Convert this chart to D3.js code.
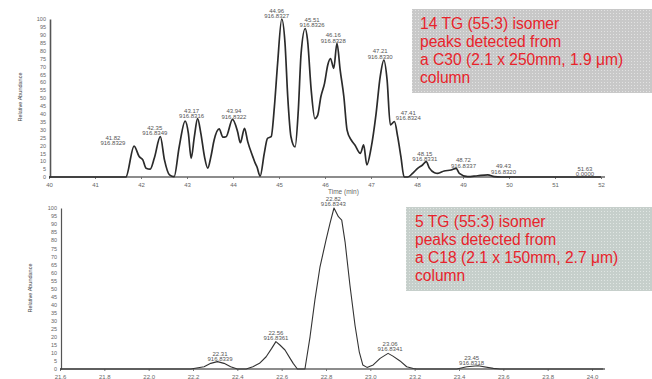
<!DOCTYPE html>
<html><head><meta charset="utf-8">
<script src="https://cdn.jsdelivr.net/npm/d3@7"></script>
<style>html,body{margin:0;padding:0;background:#fff;}svg{display:block;font-family:"Liberation Sans",Arial,sans-serif;}</style>
</head><body>
<svg id="c" width="652" height="379"></svg>
<script>
// ---------- DATA ----------
// Top chromatogram (C30), time in min, relative abundance %
const topTime = [40.00,41.67,41.85,41.96,42.04,42.11,42.20,42.29,42.42,42.51,42.62,42.72,42.83,42.96,43.03,43.09,43.16,43.23,43.30,43.38,43.45,43.52,43.59,43.70,43.78,43.85,43.99,44.10,44.16,44.25,44.32,44.43,44.48,44.52,44.59,44.68,44.75,44.83,44.90,44.97,45.06,45.13,45.19,45.26,45.35,45.42,45.48,45.57,45.62,45.70,45.78,45.84,45.91,45.99,46.06,46.12,46.19,46.26,46.33,46.41,46.48,46.57,46.65,46.77,46.84,46.91,47.00,47.11,47.20,47.28,47.35,47.42,47.51,47.58,47.65,47.72,47.80,47.91,48.02,48.12,48.20,48.27,48.38,48.45,48.59,48.74,48.85,48.92,49.10,49.32,49.54,49.68,49.83,52.00];
const topValue = [0,0,19.6,12.9,10.8,5.6,5.0,12.0,25.5,10.8,1.3,0.2,19.0,35.4,27.6,11.8,25.5,37.0,27.8,12.9,5.6,12.9,23.4,30.4,25.2,25.5,36.5,28.7,21.7,30.8,22.4,12.9,8.9,6.5,0.6,15.0,24.5,25.5,44.5,72.0,100,85.0,50.8,25.5,19.0,42.4,78.0,94.0,86.7,55.0,37.0,39.0,50.8,59.3,70.9,75.0,68.8,84.6,67.7,50.8,29.7,23.4,20.3,15.0,20.3,7.6,18.0,40.0,63.5,74.0,61.4,33.0,35.0,25.5,12.9,0,0,2.5,5.6,7.6,9.7,5.6,2.7,2.3,3.8,4.4,5.5,2.3,0.2,0.8,1.3,0.2,0,0];
const topTicks = [40,41,42,43,44,45,46,47,48,49,50,51,52];
const topPeakRT = ["41.82","42.35","43.17","43.94","44.96","45.51","46.16","47.21","47.41","48.15","48.72","49.43","51.63"];
const topPeakMZ = ["916.8329","916.8349","916.8316","916.8322","916.8327","916.8326","916.8328","916.8330","916.8324","916.8331","916.8337","916.8320","0.0000"];
const topLabelTime = [41.39,42.30,43.10,44.02,44.95,45.72,46.18,47.20,47.81,48.17,49.01,49.88,51.65];
const topLabelLevel = [21.3,27.7,38.6,38.2,101.9,96.2,86.3,76.1,37.2,11.2,7.2,3.4,1.9];
const topNote = ["14 TG (55:3) isomer","peaks detected from","a C30 (2.1 x 250mm, 1.9 μm)","column"];

// Bottom chromatogram (C18)
const botTime = [21.60,22.19,22.25,22.28,22.31,22.34,22.37,22.40,22.44,22.47,22.50,22.53,22.555,22.574,22.592,22.615,22.638,22.652,22.671,22.705,22.728,22.750,22.773,22.800,22.818,22.836,22.856,22.871,22.886,22.908,22.931,22.950,22.966,22.985,23.013,23.044,23.080,23.102,23.134,23.164,23.194,23.209,23.390,23.435,23.486,23.555,23.585,24.05];
const botValue = [0,0,1.4,3.5,4.6,3.5,1.4,0,0,1.4,3.5,7.6,12.8,17.0,14.9,11.8,6.6,3.5,0,0,20.0,42.9,63.5,80.0,90.5,100,94.6,92.5,79.0,52.0,27.0,10.7,2.5,1.0,2.5,6.6,9.7,8.0,5.0,1.4,0.3,0,0,1.4,2.0,0.4,0,0];
const botTicks = [21.6,21.8,22.0,22.2,22.4,22.6,22.8,23.0,23.2,23.4,23.6,23.8,24.0];
const botPeakRT = ["22.31","22.56","22.82","23.06","23.45"];
const botPeakMZ = ["916.8339","916.8361","916.8343","916.8341","916.8318"];
const botLabelTime = [22.322,22.574,22.833,23.089,23.457];
const botLabelLevel = [6.0,19.1,102.3,12.2,3.5];
const botNote = ["5 TG (55:3) isomer","peaks detected from","a C18 (2.1 x 150mm, 2.7 μm)","column"];

const yTicks = d3.range(0,101,5);

// ---------- DRAW ----------
const svg = d3.select("#c");
const defs = svg.append("defs");
function pattern(id, base, dot){
  const p = defs.append("pattern").attr("id",id).attr("width",3).attr("height",3).attr("patternUnits","userSpaceOnUse");
  p.append("rect").attr("width",3).attr("height",3).attr("fill",base);
  p.append("rect").attr("width",1).attr("height",1).attr("x",1).attr("y",1).attr("fill",dot);
}
pattern("pt","#c8c8c8","#e2e2e2");
pattern("pb","#c6cfcb","#e0e6e3");

function panel(o){
  const g = svg.append("g");
  const x = d3.scaleLinear().domain(o.xd).range(o.xr);
  const y = d3.scaleLinear().domain([0,100]).range(o.yr);
  // x axis
  const xa = d3.axisBottom(x).tickValues(o.ticks).tickSize(2).tickFormat(o.fmt);
  const gx = g.append("g").attr("transform",`translate(0,${o.yr[0]})`).call(xa);
  gx.select(".domain").remove();
  gx.selectAll("text").attr("font-size",6).attr("fill","#666").attr("dy","0.9em");
  gx.selectAll("line").attr("stroke","#777");
  g.append("line").attr("x1",x(o.xd[0])).attr("x2",o.xEnd).attr("y1",o.yr[0]).attr("y2",o.yr[0]).attr("stroke","#666").attr("stroke-width",1.3);
  // y axis
  const ya = d3.axisLeft(y).tickValues(yTicks).tickSize(0).tickPadding(o.pad);
  const gy = g.append("g").attr("transform",`translate(${x(o.xd[0])+o.yoff},0)`).call(ya);
  gy.select(".domain").attr("stroke","#555").attr("stroke-width",o.yw);
  gy.selectAll("text").attr("font-size",5.5).attr("fill","#666");
  g.append("text").attr("transform",`translate(${o.ylab[0]},${o.ylab[1]}) rotate(-90)`)
    .attr("text-anchor","middle").attr("font-size",5.5).attr("fill","#444").attr("dy","0.35em").text("Relative Abundance");
  if (o.xlabel) g.append("text").attr("x",x(o.xlabel[0])).attr("y",o.xlabel[1]).attr("text-anchor","middle")
    .attr("font-size",6.5).attr("fill","#666").text("Time (min)");
  // trace
  const line = d3.line().x((d,i)=>x(o.t[i])).y((d,i)=>y(o.v[i])).curve(o.curve);
  g.append("path").datum(o.v).attr("d",line).attr("fill","none").attr("stroke",o.stroke).attr("stroke-width",o.sw).attr("stroke-linejoin","round");
  // peak labels
  o.rt.forEach((r,i)=>{
    const cx = x(o.lt[i]), cy = y(o.lv[i]);
    g.append("text").attr("x",cx).attr("y",cy-5.5).attr("text-anchor","middle").attr("font-size",6).attr("fill","#555").attr("dy","0.35em").text(r);
    g.append("text").attr("x",cx).attr("y",cy).attr("text-anchor","middle").attr("font-size",6).attr("fill","#555").attr("dy","0.35em").text(o.mz[i]);
  });
  // note box
  g.append("rect").attr("x",o.box[0]).attr("y",o.box[1]).attr("width",o.box[2]).attr("height",o.box[3]).attr("fill",o.fill);
  o.note.forEach((s,i)=>{
    g.append("text").attr("x",o.box[0]+o.tx).attr("y",o.box[1]+20+i*18).attr("font-size",15.6).attr("fill","#e8232b").text(s);
  });
}

panel({xd:[40,52], xr:[49,601], yr:[177,19], ticks:topTicks, fmt:d3.format("d"), xEnd:605,
  yoff:1, pad:4, yw:1.6, ylab:[20,97], xlabel:[46.4,194],
  t:topTime, v:topValue, curve:d3.curveMonotoneX, stroke:"#2b2b2b", sw:1.7,
  rt:topPeakRT, mz:topPeakMZ, lt:topLabelTime, lv:topLabelLevel,
  box:[412,9,240,84], fill:"url(#pt)", tx:8, note:topNote});

panel({xd:[21.6,24.0], xr:[60,592], yr:[369,208], ticks:botTicks, fmt:d3.format(".1f"), xEnd:605,
  yoff:1, pad:4, yw:1.2, ylab:[30,288], xlabel:null,
  t:botTime, v:botValue, curve:d3.curveLinear, stroke:"#333", sw:1.1,
  rt:botPeakRT, mz:botPeakMZ, lt:botLabelTime, lv:botLabelLevel,
  box:[406,207,246,84], fill:"url(#pb)", tx:9, note:botNote});
</script>
</body></html>
